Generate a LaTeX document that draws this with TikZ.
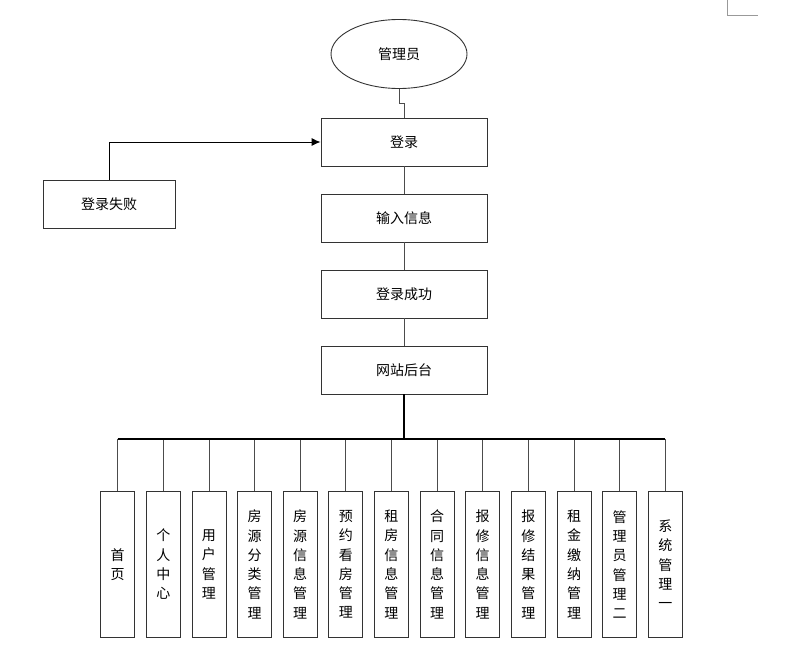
\documentclass[tikz,border=0pt]{standalone}
\usepackage{fontspec}
\setmainfont{Noto Sans CJK SC}
\usetikzlibrary{shapes.geometric,arrows.meta}
\begin{document}
\begin{tikzpicture}[x=1pt,y=-1pt,
  every node/.style={font=\fontsize{14}{19.3}\selectfont, text=black},
  box/.style={draw=black!80, line width=0.9pt, minimum width=166pt, minimum height=48pt, inner sep=0pt},
  leaf/.style={draw=black!80, line width=0.9pt, minimum width=34pt, minimum height=146pt, inner sep=0pt, align=center, anchor=north},
  conn/.style={draw=black!70, line width=0.9pt}]
\useasboundingbox (0,0) rectangle (787,648);
\node[draw=black!80, line width=0.9pt, ellipse, minimum width=136pt, minimum height=69pt, inner sep=0pt] (adm) at (399,54) {管理员};
\node[box] (login) at (404,142) {登录};
\node[box] (input) at (404,218) {输入信息};
\node[box] (ok) at (404,294) {登录成功};
\node[box] (site) at (404,370) {网站后台};
\node[box, minimum width=132pt] (fail) at (109,204) {登录失败};
\draw[conn] (adm.south) -- ++(0,14) -| (login.north);
\draw[black, line width=0.9pt, -{Latex[length=9pt,width=8pt]}] (fail.north) |- (login.west);
\draw[conn] (login) -- (input);
\draw[conn] (input) -- (ok);
\draw[conn] (ok) -- (site);
\coordinate (bus) at (404,439);
\draw[black, line width=1.8pt] (site.south) -- (bus);
\foreach \i/\t in {0/首\\页, 1/个\\人\\中\\心, 2/用\\户\\管\\理, 3/房\\源\\分\\类\\管\\理, 4/房\\源\\信\\息\\管\\理, 5/预\\约\\看\\房\\管\\理, 6/租\\房\\信\\息\\管\\理, 7/合\\同\\信\\息\\管\\理, 8/报\\修\\信\\息\\管\\理, 9/报\\修\\结\\果\\管\\理, 10/租\\金\\缴\\纳\\管\\理, 11/管\\理\\员\\管\\理\\二, 12/系\\统\\管\\理\\一} {
  \node[leaf] (n\i) at ({117.7+45.63*\i},491) {\t};
  \coordinate (b\i) at ({117.7+45.63*\i},439);
  \draw[conn] (b\i) -- (n\i.north);
}
\draw[black, line width=1.3pt] (b0) -- (b12);
\draw[black!40, line width=1pt] (727,0) -- (727,15) -- (758,15);
\end{tikzpicture}
\end{document}
